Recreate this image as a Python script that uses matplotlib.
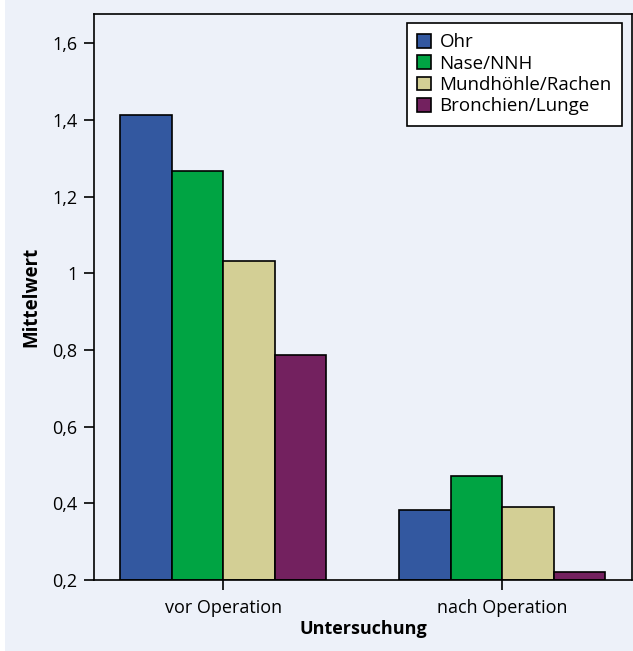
import numpy as np
import matplotlib
matplotlib.use("Agg")
import matplotlib.pyplot as plt
from matplotlib.patches import Rectangle

# Data
groups = ["vor Operation", "nach Operation"]
series = ["Ohr", "Nase/NNH", "Mundhöhle/Rachen", "Bronchien/Lunge"]
ohr = [1.413, 0.382]
nase = [1.266, 0.470]
mund = [1.032, 0.390]
bronchien = [0.786, 0.222]
colors = ["#3358a0", "#00a443", "#d3cf95", "#73215f"]
yticks = [0.2, 0.4, 0.6, 0.8, 1.0, 1.2, 1.4, 1.6]
ytick_labels = ["0,2", "0,4", "0,6", "0,8", "1", "1,2", "1,4", "1,6"]

bg = "#edf1f9"
plt.rcParams['font.family'] = ['Open Sans', 'DejaVu Sans']

fig = plt.figure(figsize=(6.33, 6.51), dpi=100, facecolor="white")
fig.patches.append(Rectangle((5 / 633, 0), 1, 1, transform=fig.transFigure,
                             facecolor=bg, edgecolor="none", zorder=-10))
ax = fig.add_axes([94 / 633, 1 - 580 / 651, (632 - 94) / 633, (580 - 14) / 651])
ax.set_facecolor(bg)

x = np.arange(len(groups))
w = 0.185
for i, (vals, lab) in enumerate(zip([ohr, nase, mund, bronchien], series)):
    ax.bar(x + (i - 1.5) * w, np.array(vals) - 0.2, w, bottom=0.2,
           color=colors[i], edgecolor="black", linewidth=1.2, label=lab)

ax.set_ylim(0.2, 1.676)
ax.set_xlim(-0.463, 1.465)
ax.set_yticks(yticks)
ax.set_yticklabels(ytick_labels, fontsize=13)
ax.set_xticks(x)
ax.set_xticklabels(groups, fontsize=13)
ax.tick_params(axis="both", length=7, width=1.2, color="black")
ax.tick_params(axis="y", pad=5)
ax.tick_params(axis="x", pad=7)
for s in ax.spines.values():
    s.set_linewidth(1.2)

ax.set_ylabel("Mittelwert", fontsize=13.5, fontweight="bold", labelpad=8)
ax.set_xlabel("Untersuchung", fontsize=13, fontweight="bold", labelpad=2)

leg = ax.legend(loc="upper right", bbox_to_anchor=(1 - 10 / 538, 1 - 9 / 566),
                fontsize=13.5, frameon=True, fancybox=False, handlelength=0.75,
                handleheight=0.75, handletextpad=0.45, labelspacing=0.18,
                borderpad=0.55, borderaxespad=0)
leg.get_frame().set_edgecolor("black")
leg.get_frame().set_linewidth(1.2)
leg.get_frame().set_facecolor("white")
leg.get_frame().set_alpha(1)

fig.savefig("out.png", dpi=100, facecolor=fig.get_facecolor())
